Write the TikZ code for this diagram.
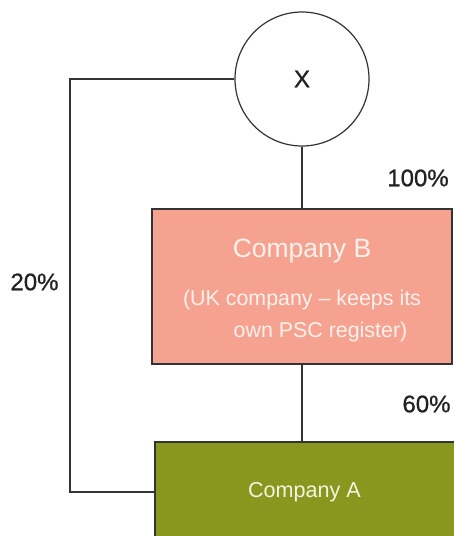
\documentclass[tikz,border=0pt]{standalone}
\usepackage{fontspec}
\setmainfont{Liberation Sans}
\newfontface\medface{Liberation Sans}[FakeBold=0.8]
\definecolor{salmon}{HTML}{F5A291}
\definecolor{olive}{HTML}{8A971E}
\definecolor{edge}{HTML}{333333}
\definecolor{ink}{HTML}{222222}
\definecolor{paleB}{HTML}{FDF1EC}
\definecolor{paleA}{HTML}{F3F3E2}
\begin{document}
\begin{tikzpicture}[x=1pt,y=-1pt,
  conn/.style={draw=edge,line width=1.2pt},
  boxB/.style={draw=edge,line width=1.2pt,fill=salmon,minimum width=300pt,minimum height=155pt,inner sep=0pt},
  boxA/.style={draw=edge,line width=1.2pt,fill=olive,minimum width=304pt,minimum height=100pt,inner sep=0pt,
    text=paleA,font=\fontsize{21.6}{24}\selectfont},
  person/.style={draw=edge,line width=1.2pt,circle,minimum size=134pt,inner sep=0pt,fill=white,
    text=ink,font=\medface\fontsize{24}{28}\selectfont},
  pct/.style={text=ink,font=\medface\fontsize{24}{28}\selectfont,inner sep=0pt},
  btext/.style={text=paleB,inner sep=0pt,anchor=base}]
\useasboundingbox (0,0) rectangle (454,536);
\node[person] (X) at (302,79) {X};
\node[boxB] (B) at (302,286.5) {};
\node[boxA] (A) at (307,492) {\hspace*{-5pt}Company A};
\node[btext,font=\fontsize{26.5}{30}\selectfont] (Bt) at (302,257) {Company B};
\node[btext,font=\fontsize{21.4}{24}\selectfont] (Bs1) at (302,305) {(UK company – keeps its};
\node[btext,font=\fontsize{21.4}{24}\selectfont] (Bs2) at (320.5,337) {own PSC register)};
\coordinate (L) at (70,79);
\draw[conn] (X.south) -- (B.north);
\draw[conn] (B.south) -- (B.south |- A.north);
\draw[conn] (X.west) -- (L) |- (A.west);
\node[pct] (p100) at (418,178) {100\%};
\node[pct] (p60) at (426.5,404) {60\%};
\node[pct] (p20) at (34.5,282) {20\%};
\end{tikzpicture}
\end{document}
